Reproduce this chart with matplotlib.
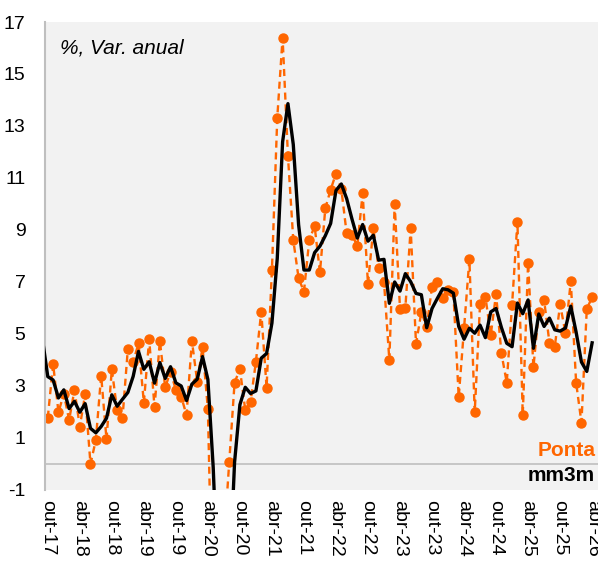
import matplotlib
matplotlib.use("Agg")
import matplotlib.pyplot as plt
import numpy as np

plt.rcParams['font.family'] = ['Liberation Sans', 'DejaVu Sans']
plt.rcParams['axes.unicode_minus'] = False

# ---------- dados ----------
# ponta: out-17 ... abr-26 (mensal)
ponta = [1.78, 3.85, 1.99, 2.70, 1.69, 2.85, 1.43, 2.68, 0.00, 0.92,
         3.40, 0.95, 3.64, 2.06, 1.77, 4.42, 3.92, 4.64, 2.36, 4.80,
         2.18, 4.73, 2.95, 3.55, 2.85, 2.59, 1.88, 4.74, 3.17, 4.49,
         2.10, -7.00, -11.00, -3.00, 0.07, 3.13, 3.65, 2.08, 2.40, 3.94,
         5.86, 2.94, 7.46, 13.32, 16.40, 11.85, 8.62, 7.14, 6.63, 8.62,
         9.15, 7.37, 9.83, 10.55, 11.17, 10.58, 8.87, 8.82, 8.39, 10.41,
         6.92, 9.07, 7.53, 7.01, 4.00, 9.99, 5.97, 6.00, 9.06, 4.62,
         5.84, 5.27, 6.82, 7.01, 6.39, 6.70, 6.61, 2.57, 5.22, 7.87,
         1.99, 6.16, 6.44, 4.96, 6.54, 4.26, 3.13, 6.13, 9.32, 1.88,
         7.74, 3.72, 5.86, 6.30, 4.67, 4.51, 6.14, 5.04, 7.03, 3.13,
         1.59, 5.97, 6.41]

# mm3m: set-17 ... abr-26
mm3m = [4.80, 3.36, 3.23, 2.54, 2.85, 2.13, 2.41, 1.99, 2.32, 1.37,
        1.20, 1.44, 1.76, 2.66, 2.22, 2.49, 2.75, 3.37, 4.33, 3.64,
        3.93, 3.11, 3.90, 3.29, 3.74, 3.12, 3.00, 2.44, 3.07, 3.26,
        4.13, 3.25, -0.14, -5.30, -7.00, -4.64, 0.07, 2.28, 2.95, 2.71,
        2.81, 4.07, 4.25, 5.42, 7.91, 12.39, 13.86, 12.29, 9.20, 7.46,
        7.46, 8.13, 8.38, 8.78, 9.25, 10.52, 10.77, 10.21, 9.42, 8.69,
        9.21, 8.57, 8.80, 7.84, 7.87, 6.18, 7.00, 6.65, 7.32, 7.01,
        6.56, 6.51, 5.24, 5.98, 6.37, 6.74, 6.70, 6.57, 5.29, 4.80,
        5.22, 5.03, 5.34, 4.86, 5.85, 5.98, 5.25, 4.64, 4.51, 6.19,
        5.78, 6.31, 4.45, 5.77, 5.29, 5.61, 5.16, 5.11, 5.23, 6.07,
        5.07, 3.92, 3.56, 4.66]

tick_labels = ['out-17', 'abr-18', 'out-18', 'abr-19', 'out-19', 'abr-20',
               'out-20', 'abr-21', 'out-21', 'abr-22', 'out-22', 'abr-23',
               'out-23', 'abr-24', 'out-24', 'abr-25', 'out-25', 'abr-26']

x_ponta = np.arange(len(ponta))
x_mm3m = np.arange(len(mm3m)) - 1

# ---------- grafico ----------
fig = plt.figure(figsize=(5.98, 5.70), dpi=100)
ax = fig.add_axes([0.075, 0.1404, 0.925, 0.821])
ax.set_facecolor('#F2F2F2')

ax.axhline(0, color='#BFBFBF', lw=1.2, zorder=1)

ax.plot(x_ponta, ponta, color='#FF6600', lw=1.7, ls=(0, (3, 2)),
        marker='o', markersize=6.5, zorder=2)
ax.plot(x_mm3m, mm3m, color='black', lw=2.4, zorder=3)

ax.set_xlim(-0.55, 103.1)
ax.set_ylim(-1, 17)
ax.set_yticks(np.arange(-1, 18, 2))
ax.set_xticks(np.arange(0, len(tick_labels) * 6, 6))
ax.set_xticklabels(tick_labels, rotation=-90)
ax.tick_params(axis='y', length=0, pad=14, labelsize=14)
ax.tick_params(axis='x', length=0, pad=7, labelsize=14)

for s in ['top', 'right', 'bottom']:
    ax.spines[s].set_visible(False)
ax.spines['left'].set_color('#BFBFBF')
ax.spines['left'].set_linewidth(1.5)

ax.text(0.027, 0.944, '%, Var. anual', transform=ax.transAxes,
        fontsize=15, style='italic', va='center', ha='left')
ax.text(0.995, 0.085, 'Ponta', transform=ax.transAxes, fontsize=15,
        fontweight='bold', color='#FF6600', va='center', ha='right')
ax.text(0.995, 0.03, 'mm3m', transform=ax.transAxes, fontsize=15,
        fontweight='bold', color='black', va='center', ha='right')

fig.savefig('out.png', dpi=100)
